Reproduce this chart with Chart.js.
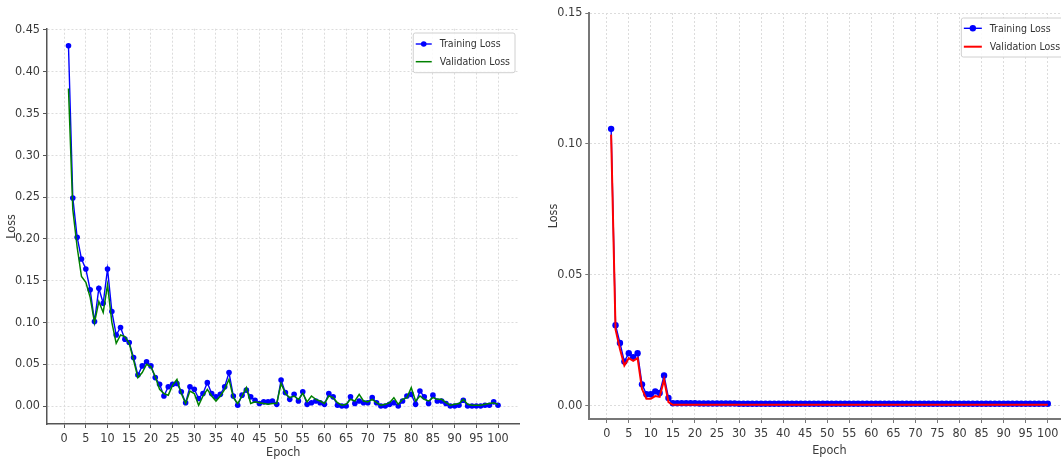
<!DOCTYPE html>
<html>
  <head>
    <script src="https://cdn.jsdelivr.net/npm/chart.js@4.4.1/dist/chart.umd.min.js"></script>
    <style>
      html, body { margin: 0; padding: 0; overflow: hidden; background: #fff; }
      #left { position: absolute; left: 0; top: 0; }
      #right { position: absolute; left: 535px; top: 0; }
    </style>
  </head>

  <body>
    <canvas id="left" width="535" height="465"></canvas>
    <canvas id="right" width="545" height="465"></canvas>
    <script>
      const epochs = [
        1, 2, 3, 4, 5, 6, 7, 8, 9, 10, 11, 12, 13, 14, 15, 16, 17, 18, 19, 20,
        21, 22, 23, 24, 25, 26, 27, 28, 29, 30, 31, 32, 33, 34, 35, 36, 37, 38, 39, 40,
        41, 42, 43, 44, 45, 46, 47, 48, 49, 50, 51, 52, 53, 54, 55, 56, 57, 58, 59, 60,
        61, 62, 63, 64, 65, 66, 67, 68, 69, 70, 71, 72, 73, 74, 75, 76, 77, 78, 79, 80,
        81, 82, 83, 84, 85, 86, 87, 88, 89, 90, 91, 92, 93, 94, 95, 96, 97, 98, 99, 100
      ];
      const xTicks = [0, 5, 10, 15, 20, 25, 30, 35, 40, 45, 50, 55, 60, 65, 70, 75, 80, 85, 90, 95, 100];
      const yTicksLeft = [0, 0.05, 0.1, 0.15, 0.2, 0.25, 0.3, 0.35, 0.4, 0.45];
      const yTicksRight = [0, 0.05, 0.1, 0.15];

      // left plot
      const trainLeft = [
        0.431, 0.249, 0.202, 0.176, 0.164, 0.139, 0.101, 0.141, 0.123, 0.164,
        0.113, 0.085, 0.094, 0.080, 0.076, 0.058, 0.037, 0.048, 0.053, 0.048,
        0.034, 0.026, 0.012, 0.023, 0.026, 0.027, 0.017, 0.004, 0.023, 0.020,
        0.009, 0.015, 0.028, 0.015, 0.011, 0.014, 0.023, 0.040, 0.012, 0.001,
        0.013, 0.019, 0.011, 0.007, 0.003, 0.005, 0.005, 0.006, 0.002, 0.031,
        0.016, 0.008, 0.014, 0.006, 0.017, 0.002, 0.004, 0.006, 0.004, 0.002,
        0.015, 0.011, 0.001, 0.000, 0.000, 0.011, 0.003, 0.006, 0.004, 0.004,
        0.010, 0.004, 0.000, 0.000, 0.002, 0.004, 0.000, 0.006, 0.012, 0.014,
        0.002, 0.018, 0.011, 0.003, 0.013, 0.006, 0.006, 0.003, 0.000, 0.000,
        0.001, 0.007, 0.000, 0.000, 0.000, 0.000, 0.001, 0.001, 0.005, 0.001
      ];
      const valLeft = [
        0.380, 0.235, 0.190, 0.155, 0.148, 0.130, 0.100, 0.125, 0.112, 0.145,
        0.100, 0.075, 0.085, 0.083, 0.075, 0.055, 0.034, 0.040, 0.050, 0.047,
        0.035, 0.020, 0.015, 0.013, 0.025, 0.032, 0.015, 0.003, 0.018, 0.015,
        0.001, 0.012, 0.020, 0.012, 0.006, 0.012, 0.020, 0.032, 0.010, 0.003,
        0.012, 0.022, 0.003, 0.005, 0.004, 0.003, 0.002, 0.003, 0.003, 0.027,
        0.015, 0.010, 0.012, 0.008, 0.015, 0.005, 0.012, 0.008, 0.006, 0.003,
        0.012, 0.010, 0.004, 0.001, 0.002, 0.008, 0.006, 0.014, 0.006, 0.005,
        0.008, 0.004, 0.001, 0.002, 0.004, 0.010, 0.002, 0.008, 0.010, 0.022,
        0.006, 0.012, 0.008, 0.006, 0.010, 0.008, 0.008, 0.004, 0.001, 0.002,
        0.003, 0.008, 0.002, 0.001, 0.001, 0.001, 0.002, 0.003, 0.004, 0.002
      ];

      // right plot
      const trainRight = [
        0.1057, 0.0306, 0.0238, 0.0167, 0.0199, 0.0184, 0.0199, 0.0080, 0.0042, 0.0042,
        0.0053, 0.0047, 0.0114, 0.0028, 0.0008, 0.0008, 0.0008, 0.0008, 0.0008, 0.0008,
        0.0007, 0.0007, 0.0007, 0.0007, 0.0007, 0.0007, 0.0007, 0.0007, 0.0007, 0.0006,
        0.0006, 0.0006, 0.0006, 0.0006, 0.0006, 0.0006, 0.0006, 0.0006, 0.0006, 0.0006,
        0.0006, 0.0006, 0.0006, 0.0006, 0.0006, 0.0006, 0.0006, 0.0006, 0.0006, 0.0006,
        0.0006, 0.0006, 0.0006, 0.0006, 0.0006, 0.0006, 0.0006, 0.0006, 0.0006, 0.0006,
        0.0006, 0.0006, 0.0006, 0.0006, 0.0006, 0.0006, 0.0006, 0.0006, 0.0006, 0.0006,
        0.0006, 0.0006, 0.0006, 0.0006, 0.0006, 0.0006, 0.0006, 0.0006, 0.0006, 0.0006,
        0.0006, 0.0006, 0.0006, 0.0006, 0.0006, 0.0006, 0.0006, 0.0006, 0.0006, 0.0006,
        0.0006, 0.0006, 0.0006, 0.0006, 0.0006, 0.0006, 0.0006, 0.0006, 0.0006, 0.0006
      ];
      const valRight = [
        0.1035, 0.0290, 0.0215, 0.0152, 0.0180, 0.0170, 0.0180, 0.0062, 0.0025, 0.0025,
        0.0035, 0.0032, 0.0098, 0.0012, 0.0002, 0.0002, 0.0002, 0.0002, 0.0002, 0.0002,
        0.0002, 0.0002, 0.0002, 0.0002, 0.0002, 0.0002, 0.0002, 0.0002, 0.0002, 0.0002,
        0.0002, 0.0002, 0.0002, 0.0002, 0.0002, 0.0002, 0.0002, 0.0002, 0.0002, 0.0002,
        0.0002, 0.0002, 0.0002, 0.0002, 0.0002, 0.0002, 0.0002, 0.0002, 0.0002, 0.0002,
        0.0002, 0.0002, 0.0002, 0.0002, 0.0002, 0.0002, 0.0002, 0.0002, 0.0002, 0.0002,
        0.0002, 0.0002, 0.0002, 0.0002, 0.0002, 0.0002, 0.0002, 0.0002, 0.0002, 0.0002,
        0.0002, 0.0002, 0.0002, 0.0002, 0.0002, 0.0002, 0.0002, 0.0002, 0.0002, 0.0002,
        0.0002, 0.0002, 0.0002, 0.0002, 0.0002, 0.0002, 0.0002, 0.0002, 0.0002, 0.0002,
        0.0002, 0.0002, 0.0002, 0.0002, 0.0002, 0.0002, 0.0002, 0.0002, 0.0002, 0.0002
      ];

      const FONT = "'Liberation Sans Narrow', 'DejaVu Sans Condensed', 'Liberation Sans', sans-serif";
      Chart.defaults.font.family = FONT;
      Chart.defaults.color = '#3a3a3a';

      const pts = (vals) => epochs.map((e, i) => ({ x: e, y: vals[i] }));

      // matplotlib-like legend box in the top right of the plot area
      const boxLegend = {
        id: 'boxLegend',
        afterDraw(chart, args, o) {
          const ctx = chart.ctx;
          const area = chart.chartArea;
          const ds = chart.data.datasets;
          ctx.save();
          ctx.font = o.fontSize + 'px ' + FONT;
          const tw = Math.max(...ds.map((d) => ctx.measureText(d.label).width));
          const w = 2.5 + o.handle + 8 + tw + 5;
          const h = o.first * 2 + o.row * (ds.length - 1);
          const x0 = area.right - 4.5 - w;
          const y0 = area.top + o.inset;
          ctx.fillStyle = 'rgba(255,255,255,0.85)';
          ctx.strokeStyle = '#d0d0d0';
          ctx.lineWidth = 1;
          ctx.beginPath();
          ctx.roundRect(x0, y0, w, h, 2);
          ctx.fill();
          ctx.stroke();
          ds.forEach((d, i) => {
            const y = y0 + o.first + i * o.row;
            const hx = x0 + 2.5;
            ctx.strokeStyle = d.borderColor;
            ctx.lineWidth = d.borderWidth;
            ctx.beginPath();
            ctx.moveTo(hx, y);
            ctx.lineTo(hx + o.handle, y);
            ctx.stroke();
            if (d.pointRadius > 0) {
              ctx.fillStyle = d.pointBackgroundColor;
              ctx.beginPath();
              ctx.arc(hx + o.handle / 2, y, d.pointRadius, 0, Math.PI * 2);
              ctx.fill();
            }
            ctx.fillStyle = '#333';
            ctx.textBaseline = 'middle';
            ctx.fillText(d.label, hx + o.handle + 8, y + 0.5);
          });
          ctx.restore();
        },
      };

      function makeChart(id, cfg) {
        return new Chart(document.getElementById(id), {
          type: 'line',
          data: {
            datasets: [
              {
                label: 'Training Loss',
                data: pts(cfg.train),
                borderColor: '#0000ff',
                backgroundColor: '#0000ff',
                pointBackgroundColor: '#0000ff',
                pointBorderWidth: 0,
                pointRadius: cfg.radius,
                borderWidth: 1.4,
                tension: 0,
                order: 2,
              },
              {
                label: 'Validation Loss',
                data: pts(cfg.val),
                borderColor: cfg.valColor,
                backgroundColor: cfg.valColor,
                pointRadius: 0,
                borderWidth: cfg.valWidth,
                tension: 0,
                order: 1,
              },
            ],
          },
          plugins: [boxLegend],
          options: {
            responsive: false,
            animation: false,
            devicePixelRatio: 1,
            layout: {
              padding: { top: cfg.padTop, right: cfg.padRight, left: 0, bottom: 0 },
            },
            plugins: {
              legend: { display: false },
              tooltip: { enabled: false },
              boxLegend: cfg.legend,
            },
            scales: {
              x: {
                type: 'linear',
                min: -3.95,
                max: 104.95,
                afterBuildTicks: (s) => { s.ticks = xTicks.map((v) => ({ value: v })); },
                afterFit: (s) => { s.height = cfg.xHeight; },
                ticks: { font: { size: 12.5 }, padding: 3, maxRotation: 0, autoSkip: false },
                grid: { color: '#dcdcdc', lineWidth: 1, tickLength: 4, tickColor: cfg.axisColor, tickWidth: 1 },
                border: { display: true, color: cfg.axisColor, width: cfg.axisWidth, dash: [2, 2] },
                title: { display: true, text: 'Epoch', font: { size: 12.5 }, padding: { top: 0, bottom: cfg.xTitlePad } },
              },
              y: {
                type: 'linear',
                min: cfg.yMin,
                max: cfg.yMax,
                afterBuildTicks: (s) => { s.ticks = cfg.yTicks.map((v) => ({ value: v })); },
                afterFit: (s) => { s.width = cfg.yWidth; },
                ticks: { font: { size: 12.5 }, padding: 3, callback: (v) => v.toFixed(2) },
                grid: { color: '#dcdcdc', lineWidth: 1, tickLength: 4, tickColor: cfg.axisColor, tickWidth: 1 },
                border: { display: true, color: cfg.axisColor, width: cfg.axisWidth, dash: [2, 2] },
                title: { display: true, text: 'Loss', font: { size: 12.5 }, padding: { top: cfg.yTitlePad, bottom: 0 } },
              },
            },
          },
        });
      }

      makeChart('left', {
        train: trainLeft,
        val: valLeft,
        valColor: '#008000',
        valWidth: 1.5,
        radius: 2.8,
        yMin: -0.0215,
        yMax: 0.4515,
        yTicks: yTicksLeft,
        padTop: 28.7,
        padRight: 15.5,
        xHeight: 41,
        yWidth: 47,
        xTitlePad: 5,
        yTitlePad: 4,
        axisColor: '#555',
        axisWidth: 1.5,
        legend: { fontSize: 10.5, handle: 16, first: 11, row: 17.7, inset: 4.3 },
      });

      makeChart('right', {
        train: trainRight,
        val: valRight,
        valColor: '#ff0000',
        valWidth: 2,
        radius: 3.2,
        yMin: -0.00525,
        yMax: 0.15,
        yTicks: yTicksRight,
        padTop: 13,
        padRight: 10.4,
        xHeight: 46,
        yWidth: 54.3,
        xTitlePad: 7,
        yTitlePad: 11,
        axisColor: '#777',
        axisWidth: 2,
        legend: { fontSize: 10.5, handle: 18, first: 10.3, row: 18.4, inset: 5 },
      });
    </script>
  </body>
</html>
